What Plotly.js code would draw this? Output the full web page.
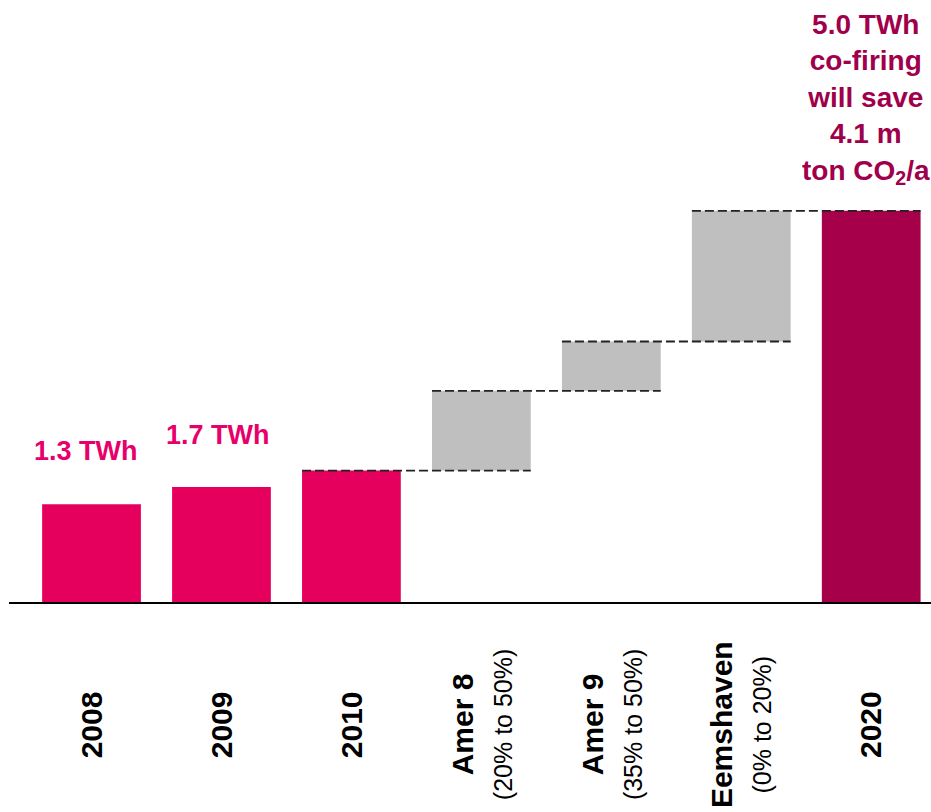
<!DOCTYPE html>
<html>
<head>
<meta charset="utf-8">
<script src="https://cdn.plot.ly/plotly-3.0.1.min.js"></script>
<style>html,body{margin:0;padding:0;background:#fff;}</style>
</head>
<body>
<div id="chart" style="width:931px;height:812px;"></div>
<script>
// ---- data ----
const yearLabels = ['2008', '2009', '2010'];
const yearValues = [1.25, 1.47, 1.68];           // TWh
const plantLabels = ['Amer 8', 'Amer 9', 'Eemshaven'];
const plantRanges = ['(20% to 50%)', '(35% to 50%)', '(0% to 20%)'];
const plantIncrements = [1.02, 0.63, 1.67];       // TWh added per plant
const totalLabel = '2020';
const totalValue = 5.0;                           // TWh
const valueLabels = ['1.3 TWh', '1.7 TWh'];
const totalNote = '5.0 TWh<br>co-firing<br>will save<br>4.1 m<br>ton CO<sub>2</sub>/a';

// ---- derived positions ----
const nYears = yearLabels.length;
const xYears = yearLabels.map((_, i) => i);
const xPlants = plantLabels.map((_, i) => nYears + i);
const xTotal = nYears + plantLabels.length;
const plantBases = [];
let run = yearValues[nYears - 1];
plantIncrements.forEach(v => { plantBases.push(run); run += v; });

const W = 0.76;
const PINK = '#E5005E', GRAY = '#BFBFBF', DARK = '#A6004A';

const traces = [
  { type: 'bar', x: xYears, y: yearValues, width: W, marker: { color: PINK }, hoverinfo: 'skip' },
  { type: 'bar', x: xPlants, y: plantIncrements, base: plantBases, width: W, marker: { color: GRAY }, hoverinfo: 'skip' },
  { type: 'bar', x: [xTotal], y: [totalValue], width: W, marker: { color: DARK }, hoverinfo: 'skip' }
];

// connector dashes: from left edge of bar i to right edge of bar i+1 at level of top of bar i
const levels = [yearValues[nYears - 1]].concat(plantBases.map((b, i) => b + plantIncrements[i]));
const cx = [], cy = [];
levels.forEach((lv, k) => {
  const i = nYears - 1 + k;
  cx.push(i - W / 2, i + 1 + W / 2, null);
  cy.push(lv, lv, null);
});
traces.push({ type: 'scatter', mode: 'lines', x: cx, y: cy, line: { color: '#222', width: 1.8, dash: '9px,4px' }, hoverinfo: 'skip' });

const annotations = [];
const labelY = -0.211;
yearLabels.forEach((t, i) => annotations.push({
  xref: 'x', yref: 'paper', x: i, y: labelY, textangle: -90, showarrow: false,
  text: '<b>' + t + '</b>', font: { size: 30, color: '#000' }, xanchor: 'center', yanchor: 'middle'
}));
plantLabels.forEach((t, i) => annotations.push({
  xref: 'x', yref: 'paper', x: nYears + i, y: labelY, textangle: -90, showarrow: false,
  text: '<b>' + t + '</b><br><span style="font-size:25px">' + plantRanges[i] + '</span>',
  font: { size: 30, color: '#000' }, xanchor: 'center', yanchor: 'middle'
}));
annotations.push({
  xref: 'x', yref: 'paper', x: xTotal, y: labelY, textangle: -90, showarrow: false,
  text: '<b>' + totalLabel + '</b>', font: { size: 30, color: '#000' }, xanchor: 'center', yanchor: 'middle'
});
annotations.push({ xref: 'x', yref: 'y', x: -0.04, y: 1.93, showarrow: false, text: '<b>' + valueLabels[0] + '</b>',
  font: { size: 27, color: '#E8006A' }, xanchor: 'center', yanchor: 'middle' });
annotations.push({ xref: 'x', yref: 'y', x: 0.97, y: 2.14, showarrow: false, text: '<b>' + valueLabels[1] + '</b>',
  font: { size: 27, color: '#E8006A' }, xanchor: 'center', yanchor: 'middle' });
annotations.push({ xref: 'x', yref: 'y', x: xTotal - 0.04, y: 6.43, showarrow: false, text: '<b>' + totalNote + '</b>',
  font: { size: 28, color: '#A0004B' }, xanchor: 'center', yanchor: 'middle', align: 'center' });

const layout = {
  width: 931, height: 812,
  margin: { l: 9, r: 0, t: 20, b: 210 },
  paper_bgcolor: '#fff', plot_bgcolor: '#fff',
  font: { family: 'Arial, "Liberation Sans", sans-serif' },
  showlegend: false, barmode: 'overlay',
  xaxis: { range: [-0.635, 6.46], showgrid: false, zeroline: false, showticklabels: false, ticks: '',
    showline: true, linecolor: '#000', linewidth: 1.6, fixedrange: true },
  yaxis: { range: [0, 7.44], visible: false, showgrid: false, zeroline: false, fixedrange: true },
  annotations: annotations
};

Plotly.newPlot('chart', traces, layout, { staticPlot: true, displayModeBar: false });
</script>
</body>
</html>
